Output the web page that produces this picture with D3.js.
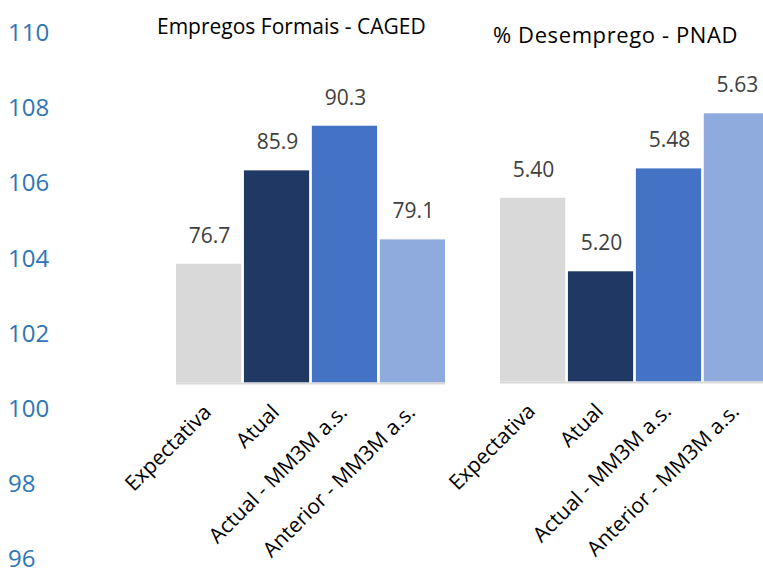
<!DOCTYPE html>
<html>
<head>
<meta charset="utf-8">
<script src="https://cdn.jsdelivr.net/npm/d3@7"></script>
<style>
  html, body { margin: 0; padding: 0; background: #fff; }
  svg { display: block; }
</style>
</head>
<body>
<svg id="chart" width="763" height="575"></svg>
<script>
// Categories shared by both panels
const categories = ["Expectativa", "Atual", "Actual - MM3M a.s.", "Anterior - MM3M a.s."];

// Formal jobs (CAGED), thousands
const cagedValues = [76.7, 85.9, 90.3, 79.1];
// Unemployment rate (PNAD), %
const pnadValues = [5.40, 5.20, 5.48, 5.63];

// Left-hand axis tick labels
const axisTicks = [110, 108, 106, 104, 102, 100, 98, 96];

const panelTitles = ["Empregos Formais - CAGED", "% Desemprego - PNAD"];
const barColors = ["#D9D9D9", "#203864", "#4472C4", "#8FAADC"];

const svg = d3.select("#chart");
const FONT = "'Open Sans', 'Noto Sans', sans-serif";

// Left axis
const yAxisScale = d3.scaleLinear().domain([96, 110]).range([558, 32]);
const yAxis = d3.axisLeft(yAxisScale).tickValues(axisTicks).tickSize(0).tickPadding(0);
const gAxis = svg.append("g").attr("transform", "translate(8,0)").call(yAxis);
gAxis.select(".domain").remove();
gAxis.selectAll("text")
  .attr("text-anchor", "start")
  .attr("dy", "0.36em")
  .attr("fill", "#2E75B6")
  .style("font-family", FONT)
  .style("font-size", "24px");

// Panel definitions
const panels = [
  { values: cagedValues, fmt: d3.format(".1f"), domain: [65, 95], pxPerUnit: 10.15,
    x0: 176, x1: 445, base: 382.5,
    title: panelTitles[0], tx: 157, ty: 34, tsize: 21, tspace: 0 },
  { values: pnadValues, fmt: d3.format(".2f"), domain: [4.9, 5.7], pxPerUnit: 367.4,
    x0: 500, x1: 769, base: 381.5,
    title: panelTitles[1], tx: 493, ty: 43, tsize: 22, tspace: 0.6 }
];

panels.forEach(p => {
  const x = d3.scaleBand().domain(categories).range([p.x0, p.x1]).paddingInner(0.04).paddingOuter(0);
  const span = p.domain[1] - p.domain[0];
  const y = d3.scaleLinear().domain(p.domain).range([p.base, p.base - span * p.pxPerUnit]);
  const g = svg.append("g");

  g.selectAll("rect.bar")
    .data(p.values)
    .join("rect")
    .attr("class", "bar")
    .attr("x", (d, i) => x(categories[i]))
    .attr("width", x.bandwidth())
    .attr("y", d => y(d))
    .attr("height", d => y(p.domain[0]) - y(d))
    .attr("fill", (d, i) => barColors[i]);

  // baseline
  g.append("line")
    .attr("x1", p.x0).attr("x2", Math.min(p.x1, 763))
    .attr("y1", p.base + 1).attr("y2", p.base + 1)
    .attr("stroke", "#D9D9D9").attr("stroke-width", 2);

  // value labels
  g.selectAll("text.val")
    .data(p.values)
    .join("text")
    .attr("class", "val")
    .attr("x", (d, i) => x(categories[i]) + x.bandwidth() / 2 + 1)
    .attr("y", d => y(d) - 21)
    .attr("text-anchor", "middle")
    .attr("fill", "#404040")
    .style("font-family", FONT)
    .style("font-size", "21px")
    .text(d => p.fmt(d));

  // category labels
  g.selectAll("text.cat")
    .data(categories)
    .join("text")
    .attr("class", "cat")
    .attr("transform", d => `translate(${x(d) + x.bandwidth() / 2 + 4},${p.base + 31}) rotate(-45)`)
    .attr("text-anchor", "end")
    .attr("fill", "#000")
    .style("font-family", FONT)
    .style("font-size", "21px")
    .text(d => d);

  // title
  svg.append("text")
    .attr("x", p.tx).attr("y", p.ty)
    .attr("fill", "#000")
    .style("font-family", FONT)
    .style("font-size", p.tsize + "px")
    .style("letter-spacing", p.tspace + "px")
    .text(p.title);
});
</script>
</body>
</html>
